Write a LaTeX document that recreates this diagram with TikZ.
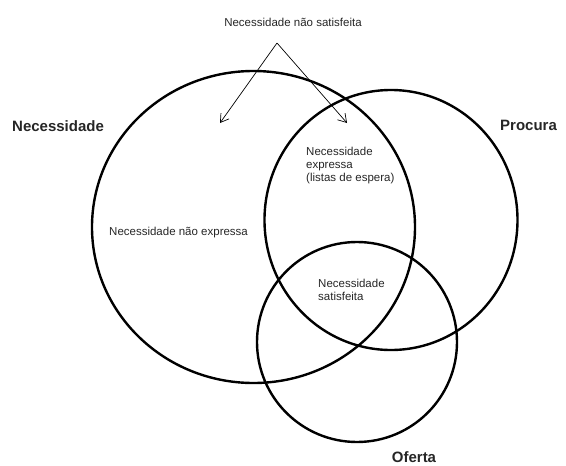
\documentclass[tikz,border=0pt]{standalone}
\usepackage{fontspec}
\setmainfont{Liberation Sans}
\usetikzlibrary{positioning,arrows.meta}

\tikzset{
  venn/.style={line width=2.4pt},
  small/.style={font=\fontsize{11.5}{13}\selectfont, inner sep=0pt, text=black!85},
  big/.style={font=\fontsize{15}{17}\selectfont\bfseries, inner sep=0pt, text=black!85},
  pointer/.style={line width=0.7pt, -{Straight Barb[length=8pt,width=10pt]}}
}

\begin{document}
\begin{tikzpicture}[x=1pt,y=-1pt]
\useasboundingbox (0,0) rectangle (566,466);

%%%%%%%%%%%%%%% circles %%%%%%%%%%%%%%%%
\draw[venn] (253.5,227) ellipse (161.5 and 156);
\draw[venn] (391,220) ellipse (126.5 and 130);
\draw[venn] (357,342) circle [radius=100];

%%%%%%%%%%%%%%% names %%%%%%%%%%%%%%%%
\node[big, anchor=west] (necessidade) at (12,126) {Necessidade};
\node[big, anchor=west] (procura) at (500,125) {Procura};
\node[big] (oferta) at (414,457) {Oferta};

%%%%%%%%%%%%%%% regions %%%%%%%%%%%%%%%%
\node[small, anchor=west] (naoexp) at (109,233) {Necessidade não expressa};
\node[small, anchor=north west, align=left] (expressa) at (306,147) {Necessidade\\ expressa\\(listas de espera)};
\node[small, anchor=west, align=left] (satisf) at (318,290) {Necessidade\\satisfeita};

%%%%%%%%%%%%%%% arrows %%%%%%%%%%%%%%%%
\node[small] (naosat) at (293,22) {Necessidade não satisfeita};
\coordinate (apex) at (277,43);
\coordinate (tipL) at (220,123);
\coordinate (tipR) at (347,123);
\draw[pointer] (apex) -- (tipL);
\draw[pointer] (apex) -- (tipR);

\end{tikzpicture}
\end{document}
